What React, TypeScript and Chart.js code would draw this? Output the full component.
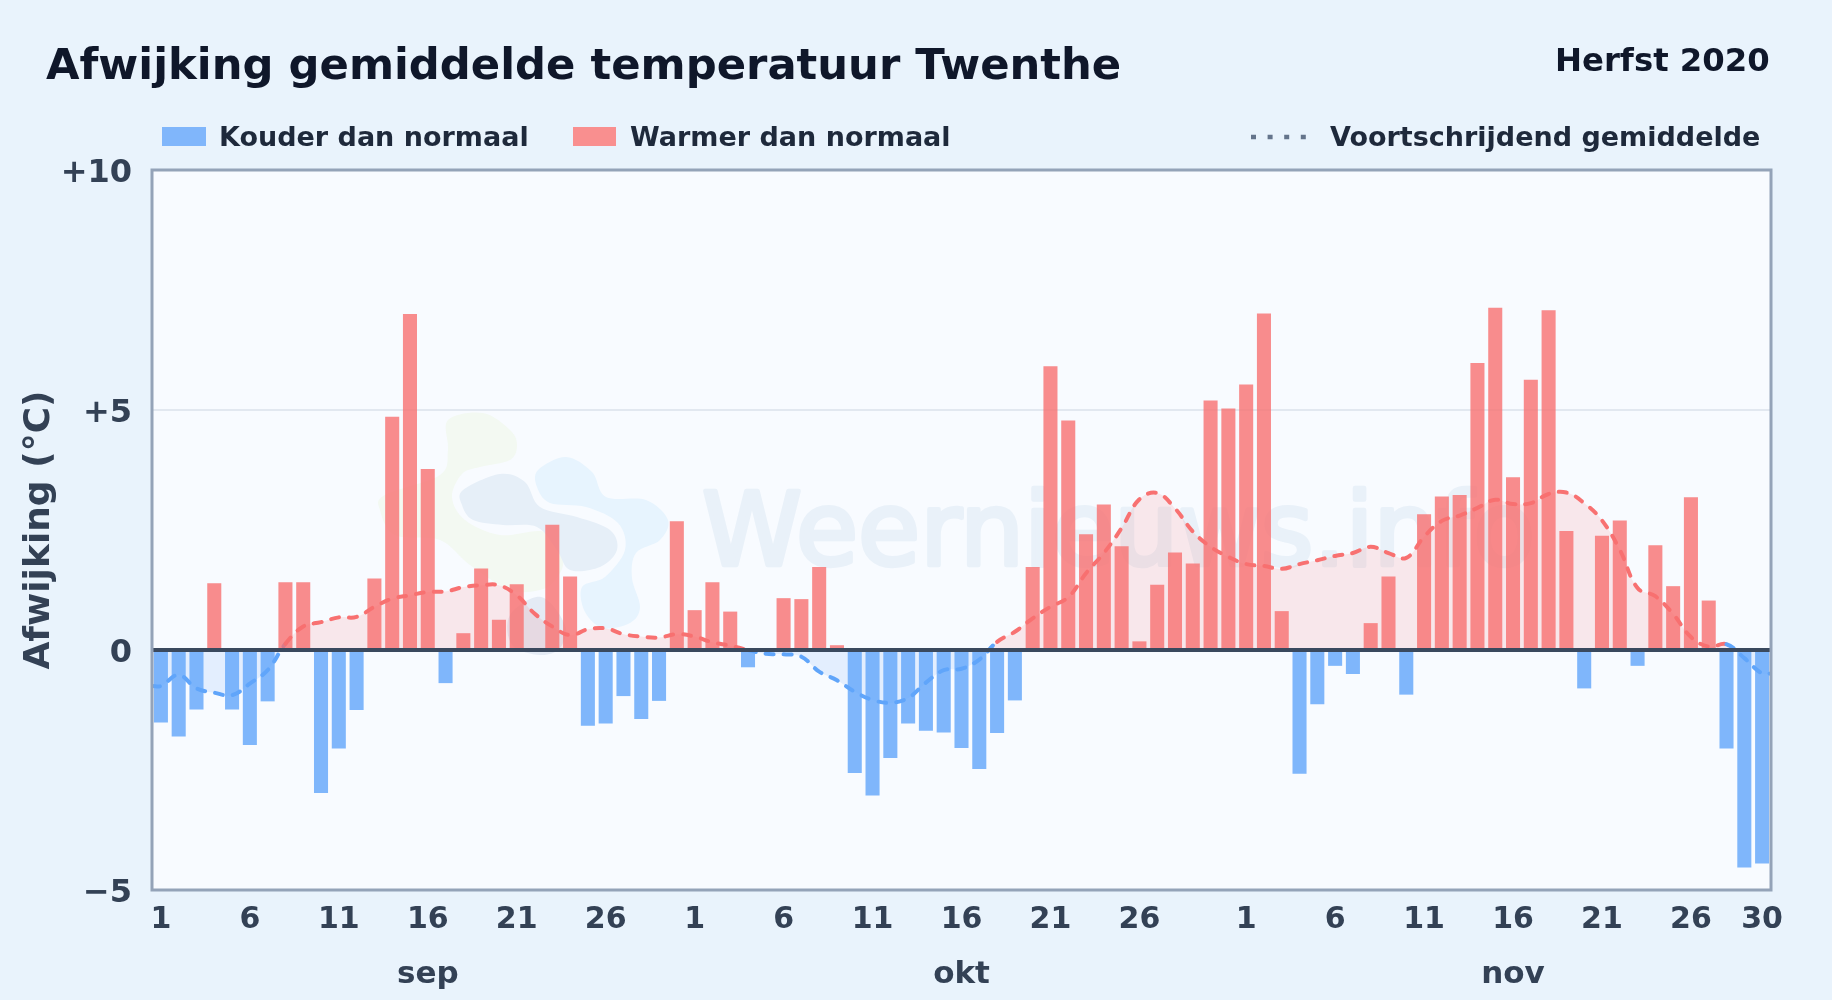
import React, { useEffect, useRef } from "react";
import { Chart, registerables } from "chart.js";

Chart.register(...registerables);

const monthNames = ["sep", "okt", "nov"];
const monthLengths = [30, 31, 30];
const yTicks = [10, 5, 0, -5];

const sepDeviation = [-1.51, -1.8, -1.24, 1.39, -1.24, -1.98, -1.07, 1.41, 1.41, -2.98, -2.05, -1.25, 1.49, 4.86, 7.0, 3.77, -0.69, 0.35, 1.7, 0.63, 1.37, 0, 2.61, 1.53, -1.58, -1.53, -0.96, -1.44, -1.06, 2.68];
const oktDeviation = [0.83, 1.41, 0.8, -0.36, 0, 1.08, 1.06, 1.73, 0.1, -2.56, -3.03, -2.25, -1.53, -1.68, -1.72, -2.04, -2.48, -1.73, -1.05, 1.73, 5.91, 4.78, 2.41, 3.03, 2.16, 0.18, 1.36, 2.03, 1.8, 5.2, 5.03];
const novDeviation = [5.53, 7.01, 0.81, -2.58, -1.13, -0.33, -0.5, 0.56, 1.53, -0.93, 2.83, 3.2, 3.23, 5.98, 7.13, 3.6, 5.63, 7.08, 2.48, -0.8, 2.38, 2.7, -0.33, 2.18, 1.33, 3.18, 1.03, -2.05, -4.53, -4.45];

const sepTrend = [-0.75, -0.52, -0.8, -0.89, -0.94, -0.7, -0.42, 0.13, 0.49, 0.58, 0.68, 0.69, 0.9, 1.07, 1.14, 1.21, 1.22, 1.31, 1.35, 1.35, 1.14, 0.76, 0.49, 0.31, 0.43, 0.45, 0.33, 0.28, 0.26, 0.33];
const oktTrend = [0.28, 0.16, 0.09, 0, -0.08, -0.09, -0.14, -0.45, -0.63, -0.87, -1.04, -1.1, -1.0, -0.68, -0.42, -0.39, -0.2, 0.17, 0.38, 0.66, 0.9, 1.1, 1.6, 2.02, 2.54, 3.14, 3.27, 2.95, 2.47, 2.15, 1.94];
const novTrend = [1.79, 1.75, 1.69, 1.79, 1.87, 1.96, 2.02, 2.15, 2.02, 1.92, 2.36, 2.69, 2.8, 2.96, 3.13, 3.04, 3.06, 3.25, 3.28, 3.06, 2.7, 2.09, 1.29, 1.12, 0.75, 0.27, 0.07, 0.12, -0.17, -0.49];

const deviation = [...sepDeviation, ...oktDeviation, ...novDeviation];
const trend = [...sepTrend, ...oktTrend, ...novTrend];

const days: number[] = [];
const months: string[] = [];
monthLengths.forEach((len, m) => {
  for (let d = 1; d <= len; d++) {
    days.push(d);
    months.push(monthNames[m]);
  }
});
const labels = days.map((d, i) => `${d} ${months[i]}`);

// the running mean reaches both edges of the plot, level with its first and last value
const trendPoints = [
  { x: 0.5, y: trend[0] },
  ...trend.map((y, i) => ({ x: i + 1, y })),
  { x: trend.length + 0.5, y: trend[trend.length - 1] },
];

const FONT = "'DejaVu Sans'";
const RED = "#f87171";
const BLUE = "#60a5fa";

// faint site logo behind the chart: decoration only, outlines in page pixels
const logoShapes: { fill: string; pts: number[][] }[] = [
  { fill: "#f3f9f2", pts: [[448, 420], [483, 413], [510, 430], [517, 445], [510, 460], [480, 467], [462, 474], [452, 497], [465, 520], [500, 535], [545, 532], [563, 560], [555, 580], [540, 590], [510, 590], [470, 565], [440, 540], [395, 535], [380, 510], [385, 495], [440, 475], [448, 450]] },
  { fill: "#e7f4fe", pts: [[538, 470], [566, 457], [592, 472], [606, 497], [646, 500], [668, 520], [660, 540], [636, 553], [632, 578], [640, 607], [630, 623], [603, 628], [585, 612], [582, 587], [605, 577], [625, 550], [618, 523], [586, 507], [550, 503], [537, 487]] },
  { fill: "#e6eff8", pts: [[463, 490], [500, 474], [525, 482], [540, 507], [577, 517], [610, 530], [617, 550], [600, 567], [570, 570], [557, 550], [537, 527], [503, 525], [473, 520], [462, 505]] },
  { fill: "#e4ebf5", pts: [[541, 597], [510, 615], [512, 645], [540, 655], [560, 648], [565, 625]] },
];

function smoothPath(ctx: CanvasRenderingContext2D, pts: number[][]) {
  const n = pts.length;
  ctx.beginPath();
  ctx.moveTo(pts[0][0], pts[0][1]);
  for (let i = 0; i < n; i++) {
    const p0 = pts[(i - 1 + n) % n];
    const p1 = pts[i];
    const p2 = pts[(i + 1) % n];
    const p3 = pts[(i + 2) % n];
    ctx.bezierCurveTo(
      p1[0] + (p2[0] - p0[0]) / 6,
      p1[1] + (p2[1] - p0[1]) / 6,
      p2[0] - (p3[0] - p1[0]) / 6,
      p2[1] - (p3[1] - p1[1]) / 6,
      p2[0],
      p2[1]
    );
  }
  ctx.closePath();
}

const frame = {
  id: "frame",
  beforeDatasetsDraw(chart: any) {
    const { ctx, chartArea: a } = chart;
    ctx.save();
    ctx.beginPath();
    ctx.rect(a.left, a.top, a.right - a.left, a.bottom - a.top);
    ctx.clip();
    for (const s of logoShapes) {
      ctx.fillStyle = s.fill;
      smoothPath(ctx, s.pts);
      ctx.fill();
    }
    ctx.fillStyle = "#e9f1f9";
    ctx.strokeStyle = "#e9f1f9";
    ctx.lineWidth = 4.5;
    ctx.lineJoin = "round";
    ctx.font = `101px ${FONT}`;
    ctx.textBaseline = "alphabetic";
    ctx.fillText("Weernieuws.info", 702, 565);
    ctx.strokeText("Weernieuws.info", 702, 565);
    ctx.restore();
  },
  beforeDraw(chart: any) {
    const { ctx, chartArea: a } = chart;
    ctx.save();
    ctx.fillStyle = "#f8fbff";
    ctx.fillRect(a.left, a.top, a.right - a.left, a.bottom - a.top);
    ctx.restore();
  },
  afterDatasetsDraw(chart: any) {
    const { ctx, chartArea: a, scales } = chart;
    const y0 = scales.y.getPixelForValue(0);
    ctx.save();
    ctx.strokeStyle = "#3a495e";
    ctx.lineWidth = 4;
    ctx.beginPath();
    ctx.moveTo(a.left, y0);
    ctx.lineTo(a.right, y0);
    ctx.stroke();
    ctx.strokeStyle = "#94a3b8";
    ctx.lineWidth = 3;
    ctx.strokeRect(a.left, a.top, a.right - a.left, a.bottom - a.top);
    ctx.restore();
  },
};

const abs = (left: number, top: number, extra: React.CSSProperties = {}): React.CSSProperties => ({
  position: "absolute",
  left,
  top,
  whiteSpace: "nowrap",
  fontFamily: FONT,
  fontWeight: 700,
  lineHeight: 1,
  ...extra,
});

export default function App() {
  const ref = useRef<HTMLCanvasElement>(null);
  useEffect(() => {
    const chart = new Chart(ref.current as HTMLCanvasElement, {
      type: "bar",
      data: {
        labels,
        datasets: [
          {
            label: "Kouder dan normaal",
            data: deviation.map((v) => (v < 0 ? v : null)),
            backgroundColor: "rgba(96,165,250,0.8)",
            order: 1,
            grouped: false,
            barPercentage: 0.79,
            categoryPercentage: 1,
          },
          {
            label: "Warmer dan normaal",
            data: deviation.map((v) => (v >= 0 ? v : null)),
            backgroundColor: "rgba(248,113,113,0.8)",
            order: 1,
            grouped: false,
            barPercentage: 0.79,
            categoryPercentage: 1,
          },
          {
            type: "line",
            label: "Voortschrijdend gemiddelde",
            data: trendPoints,
            xAxisID: "xl",
            order: 2,
            borderColor: RED,
            borderWidth: 4,
            borderDash: [8, 10],
            borderCapStyle: "round",
            pointRadius: 0,
            tension: 0.4,
            fill: { target: { value: 0 }, above: "rgba(248,113,113,0.14)", below: "rgba(96,165,250,0.14)" },
            segment: {
              borderColor: (c: any) => (c.p0.parsed.y < 0 || c.p1.parsed.y < 0 ? BLUE : RED),
            },
          },
        ] as any,
      },
      options: {
        responsive: false,
        animation: false,
        devicePixelRatio: 1,
        layout: { padding: { top: 170, right: 61, left: 0, bottom: 0 } },
        plugins: { legend: { display: false }, tooltip: { enabled: false } },
        scales: {
          x: {
            weight: 0,
            grid: { display: false, drawTicks: false },
            border: { display: false },
            afterFit: (s: any) => {
              s.height = 55;
            },
            ticks: {
              autoSkip: false,
              maxRotation: 0,
              padding: 12,
              color: "#334155",
              font: { family: FONT, weight: "bold", size: 30 },
              callback: (_v: any, i: number) =>
                (days[i] % 5 === 1 && days[i] !== 31) || i === days.length - 1 ? String(days[i]) : null,
            },
          },
          x2: {
            type: "category",
            position: "bottom",
            weight: 1,
            labels,
            grid: { display: false, drawTicks: false },
            border: { display: false },
            afterFit: (s: any) => {
              s.height = 55;
            },
            ticks: {
              autoSkip: false,
              maxRotation: 0,
              padding: 11,
              color: "#334155",
              font: { family: FONT, weight: "bold", size: 31 },
              callback: (_v: any, i: number) => (days[i] === 16 ? months[i] : null),
            },
          },
          xl: { type: "linear", display: false, offset: false, min: 0.5, max: days.length + 0.5 },
          y: {
            min: -5,
            max: 10,
            afterFit: (s: any) => {
              s.width = 152;
            },
            afterBuildTicks: (s: any) => {
              s.ticks = yTicks.map((value) => ({ value }));
            },
            grid: { color: "#e2e8f0", lineWidth: 2, drawTicks: false },
            border: { display: false },
            title: {
              display: true,
              text: "Afwijking (°C)",
              color: "#334155",
              font: { family: FONT, weight: "bold", size: 36 },
              padding: { top: 18, bottom: 0 },
            },
            ticks: {
              padding: 20,
              labelOffset: 3.5,
              color: "#334155",
              font: { family: FONT, weight: "bold", size: 32 },
              callback: (v: any) => (v > 0 ? `+${v}` : v < 0 ? `\u2212${-v}` : "0"),
            },
          },
        },
      } as any,
      plugins: [frame],
    });
    return () => chart.destroy();
  }, []);

  return (
    <div style={{ position: "fixed", left: 0, top: 0, width: 1832, height: 1000, background: "#e9f3fc", overflow: "hidden" }}>
      <canvas ref={ref} width={1832} height={1000} style={{ position: "absolute", left: 0, top: 0, width: 1832, height: 1000 }} />
      <div style={abs(46, 43, { fontSize: 43.3, color: "#0f172a" })}>Afwijking gemiddelde temperatuur Twenthe</div>
      <div style={abs(1555, 44, { fontSize: 32.3, color: "#0f172a" })}>Herfst 2020</div>
      <div style={{ position: "absolute", left: 162, top: 127, width: 44, height: 19, background: "#80b6fb" }} />
      <div style={abs(219, 123, { fontSize: 27, color: "#1e293b" })}>Kouder dan normaal</div>
      <div style={{ position: "absolute", left: 573, top: 127, width: 43, height: 19, background: "#f98f8f" }} />
      <div style={abs(630, 123, { fontSize: 27, color: "#1e293b" })}>Warmer dan normaal</div>
      <svg style={{ position: "absolute", left: 1251, top: 132 }} width={58} height={10}>
        <line x1={0} y1={5} x2={58} y2={5} stroke="#64748b" strokeWidth={4.5} strokeDasharray="5 11.6" />
      </svg>
      <div style={abs(1330, 123, { fontSize: 27, color: "#1e293b" })}>Voortschrijdend gemiddelde</div>
    </div>
  );
}
